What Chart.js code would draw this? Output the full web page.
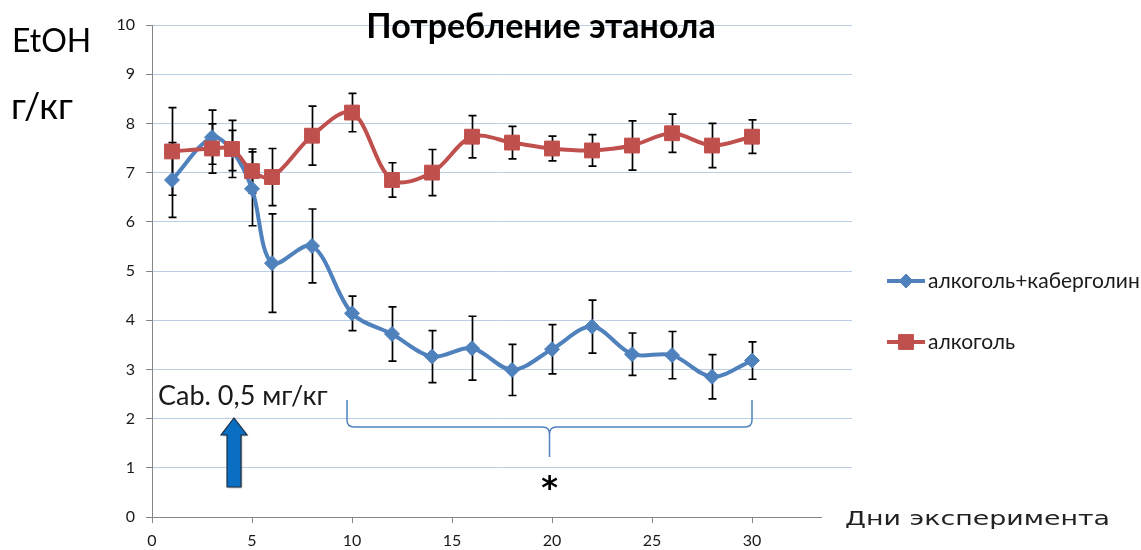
<!DOCTYPE html>
<html>
<head>
<meta charset="utf-8">
<title>Потребление этанола</title>
<script src="https://cdn.jsdelivr.net/npm/chart.js@4/dist/chart.umd.min.js"></script>
<style>
  html, body { margin: 0; padding: 0; background: #ffffff; }
  #wrap { width: 1141px; height: 550px; }
</style>
</head>
<body>
<div id="wrap"><canvas id="chart" width="1141" height="550"></canvas></div>
<script>
// Experiment days on which intake was measured
const days = [1, 3, 4, 5, 6, 8, 10, 12, 14, 16, 18, 20, 22, 24, 26, 28, 30];

// алкоголь+каберголин: mean intake, g/kg, and error half-widths
const cabMeans  = [6.85, 7.72, 7.45, 6.67, 5.16, 5.51, 4.14, 3.72, 3.26, 3.43, 2.99, 3.41, 3.87, 3.31, 3.29, 2.85, 3.18];
const cabErrors = [0.76, 0.55, 0.41, 0.75, 1.00, 0.75, 0.35, 0.55, 0.53, 0.65, 0.52, 0.50, 0.54, 0.43, 0.48, 0.45, 0.38];

// алкоголь: mean intake, g/kg, and error half-widths
const alcMeans  = [7.43, 7.49, 7.48, 7.03, 6.91, 7.75, 8.22, 6.85, 7.00, 7.73, 7.61, 7.49, 7.45, 7.55, 7.80, 7.55, 7.73];
const alcErrors = [0.89, 0.50, 0.58, 0.45, 0.58, 0.60, 0.39, 0.35, 0.47, 0.43, 0.33, 0.25, 0.32, 0.50, 0.39, 0.45, 0.34];

// Axis ticks
const xTickValues = [0, 5, 10, 15, 20, 25, 30];
const yTickValues = [0, 1, 2, 3, 4, 5, 6, 7, 8, 9, 10];

// Series and annotation labels
const seriesNames = ['алкоголь+каберголин', 'алкоголь'];
const chartTitle = 'Потребление этанола';
const yTitleLines = ['EtOH', 'г/кг'];
const xTitle = 'Дни эксперимента';
const doseLabel = 'Cab. 0,5 мг/кг';
const doseDay = 4;
const braceRange = [9.75, 30];
const significanceMark = '*';

const BLUE = '#4f81bd';
const RED = '#c0504d';
const AXIS = '#868686';
const GRID = '#b9cde5';
const TEXT = '#1a1a1a';
const FONT = 'Lato, "Open Sans", "Liberation Sans", sans-serif';

const toPoints = means => days.map((d, i) => ({ x: d, y: means[i] }));
const errorSets = [cabErrors, alcErrors];

// Vertical error bars with caps, drawn under the lines and markers
const errorBarsPlugin = {
  id: 'errorBars',
  beforeDatasetsDraw(chart) {
    const { ctx, scales: { x, y } } = chart;
    ctx.save();
    ctx.strokeStyle = '#000000';
    ctx.lineWidth = 1.7;
    chart.data.datasets.forEach((ds, di) => {
      const errs = errorSets[di];
      ds.data.forEach((p, i) => {
        const px = Math.round(x.getPixelForValue(p.x)) + 0.5;
        const top = y.getPixelForValue(p.y + errs[i]);
        const bot = y.getPixelForValue(p.y - errs[i]);
        ctx.beginPath();
        ctx.moveTo(px, top); ctx.lineTo(px, bot);
        ctx.moveTo(px - 4, top); ctx.lineTo(px + 4, top);
        ctx.moveTo(px - 4, bot); ctx.lineTo(px + 4, bot);
        ctx.stroke();
      });
    });
    ctx.restore();
  }
};

// Titles, legend, dose arrow and significance brace
const decorPlugin = {
  id: 'decor',
  afterDraw(chart) {
    const { ctx, scales: { x, y } } = chart;
    ctx.save();

    // Chart title
    ctx.fillStyle = '#000000';
    ctx.font = 'bold 34px ' + FONT;
    ctx.textAlign = 'center';
    ctx.textBaseline = 'alphabetic';
    ctx.fillText(chartTitle, 541, 38);

    // Y-axis title in two lines
    ctx.textAlign = 'left';
    ctx.font = '32px ' + FONT;
    ctx.fillText(yTitleLines[0], 12, 52);
    ctx.font = '36px ' + FONT;
    ctx.fillText(yTitleLines[1], 11, 119);

    // X-axis title sits in its own white box over the axis end
    ctx.fillStyle = '#ffffff';
    ctx.fillRect(822, 504, 319, 34);
    ctx.fillStyle = '#222222';
    ctx.font = '20px "DejaVu Sans", sans-serif';
    const xtW = ctx.measureText(xTitle).width;
    ctx.save();
    ctx.translate(845, 525);
    ctx.scale(265 / xtW, 1);
    ctx.fillText(xTitle, 0, 0);
    ctx.restore();

    // Legend
    const legendRows = [
      { name: seriesNames[0], color: BLUE, style: 'rectRot', r: 7, y: 281 },
      { name: seriesNames[1], color: RED, style: 'rect', r: 10.5, y: 342 }
    ];
    legendRows.forEach(row => {
      ctx.strokeStyle = row.color;
      ctx.lineWidth = 4;
      ctx.beginPath();
      ctx.moveTo(887, row.y); ctx.lineTo(925, row.y);
      ctx.stroke();
      ctx.fillStyle = row.color;
      ctx.strokeStyle = row.color;
      ctx.lineWidth = 1;
      Chart.helpers.drawPoint(ctx, { pointStyle: row.style, radius: row.r, borderWidth: 1 }, 906, row.y);
      ctx.fillStyle = TEXT;
      ctx.font = '21px ' + FONT;
      ctx.textAlign = 'left';
      ctx.textBaseline = 'middle';
      ctx.fillText(row.name, 928, row.y);
    });

    // Dose label and arrow
    ctx.textBaseline = 'alphabetic';
    ctx.fillStyle = TEXT;
    ctx.font = '27px ' + FONT;
    ctx.fillText(doseLabel, 158, 405);

    const ax = x.getPixelForValue(doseDay) + 2;
    const tipY = 418, headY = 435, baseY = 487;
    ctx.beginPath();
    ctx.moveTo(ax, tipY);
    ctx.lineTo(ax + 13, headY);
    ctx.lineTo(ax + 7, headY);
    ctx.lineTo(ax + 7, baseY);
    ctx.lineTo(ax - 7, baseY);
    ctx.lineTo(ax - 7, headY);
    ctx.lineTo(ax - 13, headY);
    ctx.closePath();
    ctx.shadowColor = 'rgba(0,0,0,0.35)';
    ctx.shadowBlur = 2;
    ctx.shadowOffsetX = 1;
    ctx.shadowOffsetY = 1;
    ctx.fillStyle = '#0a6fc2';
    ctx.fill();
    ctx.shadowColor = 'transparent';
    ctx.strokeStyle = '#1d2f45';
    ctx.lineWidth = 1.2;
    ctx.stroke();

    // Brace under the cabergoline days
    const bx0 = x.getPixelForValue(braceRange[0]);
    const bx1 = x.getPixelForValue(braceRange[1]);
    const bm = (bx0 + bx1) / 2;
    const bTop = 400, bLine = 427, bTip = 457, rr = 7;
    ctx.strokeStyle = BLUE;
    ctx.lineWidth = 1.5;
    ctx.beginPath();
    ctx.moveTo(bx0, bTop);
    ctx.lineTo(bx0, bLine - rr);
    ctx.quadraticCurveTo(bx0, bLine, bx0 + rr, bLine);
    ctx.lineTo(bm - rr, bLine);
    ctx.quadraticCurveTo(bm, bLine, bm, bLine + rr);
    ctx.lineTo(bm, bTip);
    ctx.moveTo(bm, bLine + rr);
    ctx.quadraticCurveTo(bm, bLine, bm + rr, bLine);
    ctx.lineTo(bx1 - rr, bLine);
    ctx.quadraticCurveTo(bx1, bLine, bx1, bLine - rr);
    ctx.lineTo(bx1, bTop);
    ctx.stroke();

    // Significance mark centred under the brace
    ctx.fillStyle = '#000000';
    ctx.font = 'bold 32px "DejaVu Sans", sans-serif';
    ctx.textAlign = 'center';
    const m = ctx.measureText(significanceMark);
    const starY = 482 + (m.actualBoundingBoxAscent - m.actualBoundingBoxDescent) / 2;
    ctx.fillText(significanceMark, bm, starY);

    ctx.restore();
  }
};

new Chart(document.getElementById('chart'), {
  type: 'line',
  data: {
    datasets: [
      {
        label: seriesNames[0],
        data: toPoints(cabMeans),
        borderColor: BLUE,
        backgroundColor: BLUE,
        pointStyle: 'rectRot',
        pointRadius: 7.5,
        pointBorderWidth: 1,
        order: 2
      },
      {
        label: seriesNames[1],
        data: toPoints(alcMeans),
        borderColor: RED,
        backgroundColor: RED,
        pointStyle: 'rect',
        pointRadius: 10.5,
        pointBorderWidth: 1,
        order: 1
      }
    ]
  },
  options: {
    responsive: false,
    animation: false,
    devicePixelRatio: 1,
    events: [],
    layout: { padding: { top: 25, right: 289, left: 0, bottom: 0 } },
    plugins: {
      legend: { display: false },
      title: { display: false },
      tooltip: { enabled: false }
    },
    elements: {
      line: { tension: 0.33, borderWidth: 4, fill: false },
      point: { hoverRadius: 0 }
    },
    scales: {
      x: {
        type: 'linear',
        min: 0,
        max: 35,
        afterBuildTicks: s => { s.ticks = xTickValues.map(v => ({ value: v })); },
        afterFit: s => { s.height = 33; },
        grid: { drawOnChartArea: false, drawTicks: true, tickLength: 6, tickColor: AXIS },
        border: { color: AXIS, width: 1 },
        ticks: { font: { family: FONT, size: 16 }, color: TEXT, padding: 8, maxRotation: 0 }
      },
      y: {
        type: 'linear',
        min: 0,
        max: 10,
        afterBuildTicks: s => { s.ticks = yTickValues.map(v => ({ value: v })); },
        afterFit: s => { s.width = 152; },
        grid: {
          color: c => (c.tick && c.tick.value === 0 ? AXIS : GRID),
          tickColor: AXIS,
          tickLength: 6
        },
        border: { color: AXIS, width: 1 },
        ticks: { font: { family: FONT, size: 16 }, color: TEXT, padding: 11 }
      }
    }
  },
  plugins: [errorBarsPlugin, decorPlugin]
});
</script>
</body>
</html>
